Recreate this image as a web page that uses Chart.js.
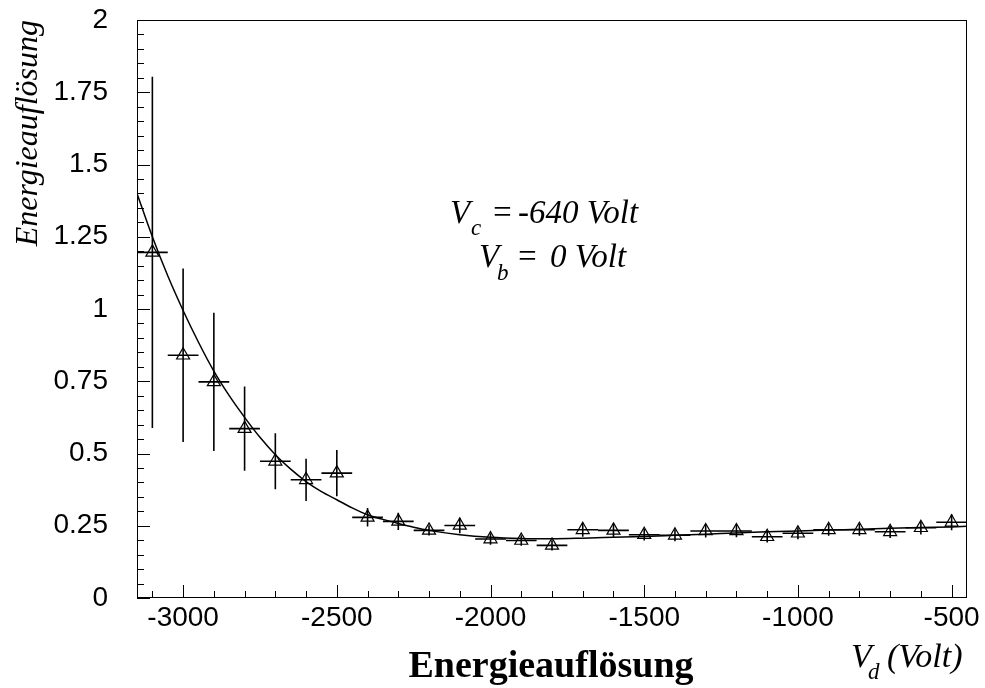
<!DOCTYPE html>
<html>
<head>
<meta charset="utf-8">
<script src="https://cdn.jsdelivr.net/npm/chart.js@4.4.0/dist/chart.umd.min.js"></script>
<style>
  body { margin: 0; background: #fff; }
  canvas { display: block; }
</style>
</head>
<body>
<canvas id="resChart" width="985" height="688"></canvas>
<script>
// Messpunkte (V_d in Volt, Energieaufloesung, Fehler)
var voltages = [-3100, -3000, -2900, -2800, -2700, -2600, -2500, -2400, -2300, -2200, -2100, -2000, -1900, -1800,
                -1700, -1600, -1500, -1400, -1300, -1200, -1100, -1000, -900, -800, -700, -600, -500];
var resolution = [1.196, 0.84, 0.748, 0.586, 0.473, 0.409, 0.432, 0.279, 0.265, 0.234, 0.251, 0.204, 0.199, 0.182,
                  0.236, 0.234, 0.219, 0.217, 0.232, 0.232, 0.212, 0.224, 0.236, 0.236, 0.229, 0.243, 0.262];
var resolutionErr = [0.608, 0.30, 0.239, 0.146, 0.097, 0.073, 0.08, 0.032, 0.03, 0.018, 0.027, 0.02, 0.018, 0.018,
                     0.024, 0.024, 0.02, 0.021, 0.023, 0.022, 0.02, 0.021, 0.021, 0.021, 0.021, 0.023, 0.028];
var binHalfWidth = 50;

// Fitkurve
var fitVoltages = [-3150, -3100, -3050, -3000, -2950, -2900, -2850, -2800, -2750, -2700, -2650, -2600, -2550, -2500,
                   -2450, -2400, -2350, -2300, -2250, -2200, -2100, -2000, -1900, -1800, -1700, -1600, -1500, -1400,
                   -1300, -1200, -1100, -1000, -900, -800, -700, -600, -500, -450];
var fitValues = [1.40, 1.25, 1.115, 0.995, 0.885, 0.785, 0.700, 0.625, 0.556, 0.496, 0.446, 0.403, 0.368, 0.340,
                 0.312, 0.288, 0.272, 0.258, 0.245, 0.234, 0.219, 0.210, 0.206, 0.205, 0.207, 0.210, 0.213, 0.217,
                 0.221, 0.225, 0.229, 0.232, 0.235, 0.238, 0.241, 0.244, 0.246, 0.248];

var xTicks = [-3000, -2500, -2000, -1500, -1000, -500];
var yTicks = [0, 0.25, 0.5, 0.75, 1, 1.25, 1.5, 1.75, 2];
var yTickLabels = ['0', '0.25', '0.5', '0.75', '1', '1.25', '1.5', '1.75', '2'];

var serif = '"Liberation Serif", "Times New Roman", serif';
var sans = '"Liberation Sans", Arial, sans-serif';

// Rahmen, Ticks nach innen, Fehlerbalken und Beschriftung (ROOT-Stil)
var rootStyle = {
    id: 'rootStyle',
    beforeDatasetsDraw: function(chart) {
        var ctx = chart.ctx;
        var x = chart.scales.x, y = chart.scales.y;
        ctx.save();
        ctx.strokeStyle = '#000';
        ctx.lineWidth = 1.6;
        ctx.beginPath();
        voltages.forEach(function(v, i) {
            var px = x.getPixelForValue(v), py = y.getPixelForValue(resolution[i]);
            ctx.moveTo(x.getPixelForValue(v - binHalfWidth), py);
            ctx.lineTo(x.getPixelForValue(v + binHalfWidth), py);
            ctx.moveTo(px, y.getPixelForValue(resolution[i] - resolutionErr[i]));
            ctx.lineTo(px, y.getPixelForValue(resolution[i] + resolutionErr[i]));
        });
        ctx.stroke();
        ctx.restore();
    },
    afterDraw: function(chart) {
        var ctx = chart.ctx, a = chart.chartArea;
        var x = chart.scales.x, y = chart.scales.y;
        ctx.save();
        ctx.strokeStyle = '#000';
        ctx.lineWidth = 1;
        ctx.strokeRect(a.left + 0.5, a.top + 0.5, a.right - a.left - 1, a.bottom - a.top - 1);

        ctx.beginPath();
        // y: Haupt- und Nebenticks
        yTicks.forEach(function(t, i) {
            var py = Math.round(y.getPixelForValue(t)) + 0.5;
            ctx.moveTo(a.left, py);
            ctx.lineTo(a.left + 13, py);
            if (i < yTicks.length - 1) {
                var step = (yTicks[i + 1] - t) / 5;
                for (var k = 1; k < 5; k++) {
                    var pm = Math.round(y.getPixelForValue(t + k * step)) + 0.5;
                    ctx.moveTo(a.left, pm);
                    ctx.lineTo(a.left + 7, pm);
                }
            }
        });
        // x: Haupt- und Nebenticks
        for (var v = Math.ceil(x.min / 100) * 100; v <= x.max; v += 100) {
            var px = Math.round(x.getPixelForValue(v)) + 0.5;
            var len = xTicks.indexOf(v) >= 0 ? 13 : 7;
            ctx.moveTo(px, a.bottom);
            ctx.lineTo(px, a.bottom - len);
        }
        ctx.stroke();

        ctx.fillStyle = '#000';
        ctx.textBaseline = 'alphabetic';

        // y-Achsentitel
        ctx.save();
        ctx.font = 'italic 32px ' + serif;
        ctx.translate(37, a.top);
        ctx.rotate(-Math.PI / 2);
        ctx.textAlign = 'right';
        ctx.fillText('Energieauflösung', 0, 0);
        ctx.restore();

        // Titel unten
        ctx.font = 'bold 38px ' + serif;
        ctx.textAlign = 'center';
        ctx.fillText('Energieauflösung', 551, 677);

        // x-Achsentitel
        ctx.textAlign = 'left';
        ctx.font = 'italic 34px ' + serif;
        ctx.fillText('V', 851, 667);
        ctx.fillText('(Volt)', 887, 667);
        ctx.font = 'italic 23px ' + serif;
        ctx.fillText('d', 868, 679);

        // Parameter
        ctx.font = 'italic 33px ' + serif;
        ctx.fillText('V', 450, 223);
        ctx.fillText('=', 491, 223);
        ctx.fillText('-640 Volt', 518, 223);
        ctx.fillText('V', 479, 267);
        ctx.fillText('=', 516, 267);
        ctx.fillText('0 Volt', 550, 267);
        ctx.font = 'italic 23px ' + serif;
        ctx.fillText('c', 471, 235);
        ctx.fillText('b', 497, 280);
        ctx.restore();
    }
};

function noScalePadding(s) {
    s.paddingTop = 0;
    s.paddingBottom = 0;
    s.paddingLeft = 0;
    s.paddingRight = 0;
}

var ctx = document.getElementById('resChart').getContext('2d');
var resChart = new Chart(ctx, {
    type: 'scatter',
    data: {
        datasets: [{
            label: 'Fit',
            data: fitVoltages.map(function(v, i) { return { x: v, y: fitValues[i] }; }),
            showLine: true,
            borderColor: '#000',
            borderWidth: 1.5,
            pointRadius: 0,
            cubicInterpolationMode: 'monotone',
            fill: false
        }, {
            label: 'Energieauflösung',
            data: voltages.map(function(v, i) { return { x: v, y: resolution[i] }; }),
            showLine: false,
            pointStyle: 'triangle',
            pointRadius: 7.5,
            borderColor: '#000',
            borderWidth: 1.2,
            backgroundColor: 'rgba(0,0,0,0)'
        }]
    },
    plugins: [rootStyle],
    options: {
        responsive: false,
        devicePixelRatio: 1,
        animation: false,
        layout: { padding: { top: 20, right: 18, left: 0, bottom: 0 } },
        plugins: {
            legend: { display: false },
            tooltip: { enabled: false }
        },
        scales: {
            x: {
                type: 'linear',
                min: -3150,
                max: -450,
                grid: { display: false, drawTicks: false },
                border: { display: false },
                afterFit: function(s) { s.height = 90; noScalePadding(s); },
                afterBuildTicks: function(s) { s.ticks = xTicks.map(function(v) { return { value: v }; }); },
                ticks: {
                    padding: 3,
                    color: '#000',
                    maxRotation: 0,
                    font: { family: sans, size: 28 },
                    callback: function(value) { return String(value); }
                }
            },
            y: {
                type: 'linear',
                min: 0,
                max: 2,
                grid: { display: false, drawTicks: false },
                border: { display: false },
                afterFit: function(s) { s.width = 137; noScalePadding(s); },
                afterBuildTicks: function(s) { s.ticks = yTicks.map(function(v) { return { value: v }; }); },
                ticks: {
                    padding: 29,
                    color: '#000',
                    font: { family: sans, size: 28 },
                    callback: function(value) { return yTickLabels[yTicks.indexOf(value)]; }
                }
            }
        }
    }
});
</script>
</body>
</html>
